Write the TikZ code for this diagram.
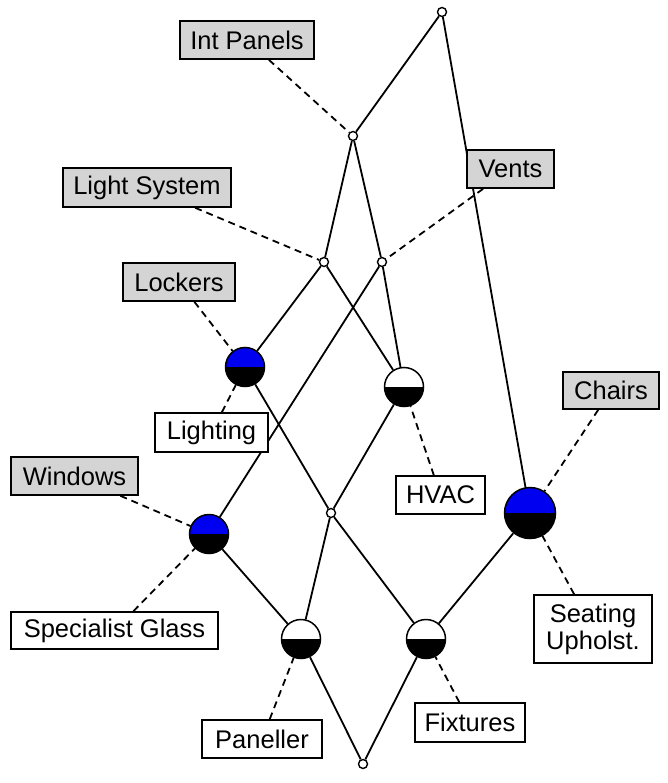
\documentclass[tikz,border=0pt]{standalone}
\usepackage{fontspec}
\setmainfont{Liberation Sans}
\usetikzlibrary{backgrounds}
\definecolor{attrgray}{RGB}{212,212,212}
\definecolor{cblue}{RGB}{0,0,240}
\begin{document}
\begin{tikzpicture}[x=1pt,y=-1pt,
  every node/.style={font=\fontsize{25.5}{27}\selectfont},
  edge/.style={line width=1.8pt,black},
  tie/.style={line width=1.8pt,black,dash pattern=on 7pt off 5pt},
  small/.style={circle,draw,fill=white,line width=1.4pt,minimum size=9pt,inner sep=0pt},
  halfc/.style={circle,draw,line width=1.5pt,minimum size=39pt,inner sep=0pt,
    path picture={\fill[black] (path picture bounding box.west) rectangle (path picture bounding box.south east);}},
  bluec/.style={halfc,fill=cblue},
  whitec/.style={halfc,fill=white},
  attr/.style={draw,fill=attrgray,line width=1.6pt,inner sep=0pt,align=center},
  obj/.style={draw,fill=white,line width=1.6pt,inner sep=0pt,align=center}]
\useasboundingbox (0,0) rectangle (667,783);
% concepts
\node[small] (top) at (442,12) {};
\node[small] (ip) at (353,136) {};
\node[small] (ls) at (324,262) {};
\node[small] (vn) at (382,262) {};
\node[bluec] (lk) at (245,367) {};
\node[whitec] (hv) at (404,387) {};
\node[small] (md) at (331,513) {};
\node[bluec] (wn) at (209,534) {};
\node[bluec,minimum size=51pt] (ch) at (530,513) {};
\node[whitec] (pn) at (301,639) {};
\node[whitec] (fx) at (426,639) {};
\node[small] (bt) at (363,764) {};
% attribute labels
\node[attr,minimum width=134pt,minimum height=38pt] (lip) at (247,40) {Int Panels};
\node[attr,minimum width=168pt,minimum height=39pt] (lls) at (147,187.5) {Light System};
\node[attr,minimum width=112pt,minimum height=38pt] (llk) at (179,282) {Lockers};
\node[attr,minimum width=87pt,minimum height=38pt] (lvn) at (510.5,169) {Vents};
\node[attr,minimum width=96pt,minimum height=37pt] (lch) at (611,390.5) {Chairs};
\node[attr,minimum width=127pt,minimum height=38pt] (lwn) at (74.5,476) {Windows};
% object labels
\node[obj,minimum width=113pt,minimum height=39pt] (olk) at (211.5,432.5) {Lighting};
\node[obj,minimum width=89pt,minimum height=38pt] (ohv) at (440.5,495) {HVAC};
\node[obj,minimum width=207pt,minimum height=37pt] (own) at (114.5,630.5) {Specialist Glass};
\node[obj,minimum width=120pt,minimum height=38pt] (opn) at (262,739) {Paneller};
\node[obj,minimum width=110pt,minimum height=39pt] (ofx) at (470,722.5) {Fixtures};
\node[obj,minimum width=118pt,minimum height=68pt] (och) at (593,629) {Seating\\Upholst.};
\begin{scope}[on background layer]
\draw[edge] (top) -- (ip);
\draw[edge] (top) -- (ch);
\draw[edge] (ip) -- (ls);
\draw[edge] (ip) -- (vn);
\draw[edge] (ls) -- (lk);
\draw[edge] (ls) -- (hv);
\draw[edge] (vn) -- (wn);
\draw[edge] (vn) -- (hv);
\draw[edge] (lk) -- (md);
\draw[edge] (hv) -- (md);
\draw[edge] (md) -- (pn);
\draw[edge] (md) -- (fx);
\draw[edge] (wn) -- (pn);
\draw[edge] (ch) -- (fx);
\draw[edge] (pn) -- (bt);
\draw[edge] (fx) -- (bt);
\draw[tie] (lip) -- (ip);
\draw[tie] (lls) -- (ls);
\draw[tie] (llk) -- (lk);
\draw[tie] (lvn) -- (vn);
\draw[tie] (lch) -- (ch);
\draw[tie] (lwn) -- (wn);
\draw[tie] (olk) -- (lk);
\draw[tie] (ohv) -- (hv);
\draw[tie] (own) -- (wn);
\draw[tie] (opn) -- (pn);
\draw[tie] (ofx) -- (fx);
\draw[tie] (och) -- (ch);
\end{scope}
\end{tikzpicture}
\end{document}
